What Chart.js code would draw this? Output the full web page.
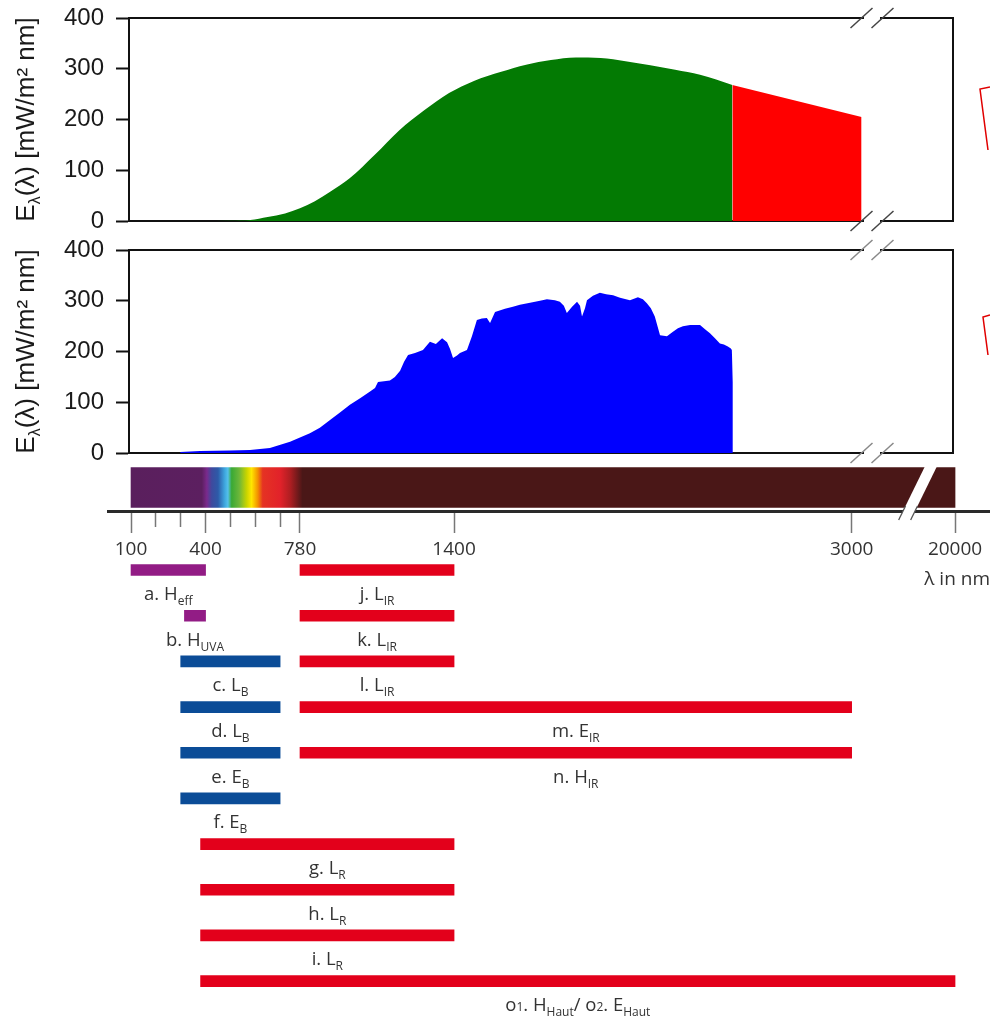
<!DOCTYPE html>
<html>
<head>
<meta charset="utf-8">
<script src="https://cdn.jsdelivr.net/npm/chart.js@4.4.1/dist/chart.umd.min.js"></script>
<style>
  body { margin: 0; background: #fff; width: 990px; height: 1020px; position: relative; overflow: hidden; }
  canvas { position: absolute; left: 0; }
</style>
</head>
<body>
<canvas id="planck" width="990" height="240" style="top:0"></canvas>
<canvas id="sun" width="990" height="240" style="top:230px"></canvas>
<canvas id="axis" width="990" height="135" style="top:460px"></canvas>
<canvas id="ranges" width="990" height="480" style="top:540px"></canvas>
<script>
// top panel: smooth source spectrum (green) and its IR tail (red), x in nm
const PLANCK_NM  = [100, 380, 500, 580, 650, 720, 780, 840, 900, 980, 1080, 1180, 1280, 1380, 1480, 1590, 1690, 1790, 1890, 1990, 2090, 2190, 2290, 2390, 2520];
const PLANCK_VAL = [0, 0, 0.5, 2, 8, 15, 25, 39, 57, 84, 130, 179, 218, 252, 276, 294, 308, 317, 322, 321, 315, 307, 298, 288, 268];
const PLANCK_IR_NM  = [2520, 3040];
const PLANCK_IR_VAL = [268, 205];

// middle panel: measured solar spectrum
const SUN_NM  = [298, 378, 498, 579, 659, 740, 820, 860, 901, 941, 981, 1022, 1062, 1082, 1094, 1142, 1162, 1183, 1199, 1215, 1243, 1275, 1303, 1327, 1352, 1372, 1384, 1396, 1412, 1424, 1452, 1472, 1492, 1512, 1532, 1545, 1565, 1605, 1637, 1665, 1706, 1746, 1774, 1806, 1826, 1842, 1854, 1875, 1895, 1907, 1915, 1927, 1935, 1959, 1987, 2012, 2040, 2068, 2108, 2140, 2160, 2176, 2192, 2208, 2229, 2257, 2281, 2301, 2321, 2350, 2390, 2410, 2430, 2450, 2470, 2486, 2502, 2514, 2518, 2522];
const SUN_VAL = [2, 4, 5, 6, 10, 22, 39, 50, 65, 80, 95, 108, 121, 128, 140, 143, 150, 162, 180, 193, 197, 203, 219, 215, 226, 218, 205, 187, 192, 197, 203, 230, 262, 265, 266, 256, 278, 284, 288, 292, 296, 300, 303, 301, 298, 290, 276, 288, 298, 290, 269, 285, 301, 310, 316, 313, 311, 306, 301, 307, 303, 295, 285, 269, 232, 230, 239, 246, 250, 252, 252, 244, 236, 226, 216, 214, 210, 206, 203, 140];

// wavelength axis
const AXIS_TICKS  = [100, 200, 300, 400, 500, 600, 700, 780, 1400, 3000, 20000];
const AXIS_LABELS = ['100', '', '', '400', '', '', '', '780', '1400', '3000', '20000'];

// colour band under the panels
const SPECTRUM_NM     = [100, 385, 405, 425, 450, 478, 490, 505, 535, 565, 585, 610, 630, 700, 740, 790, 20000];
const SPECTRUM_COLORS = ['#5a1f5d', '#5c1f60', '#7a2a8c', '#3e4a9e', '#2d5aa8', '#3fa9e0', '#55c0ea', '#3aa935', '#6cb63a', '#c8d400', '#ffe600', '#f39200', '#e53323', '#e2222a', '#b01e22', '#4a1717', '#4a1717'];

// ranges of the limit values (nm)
const ROW_IDS = ['1', '2', '3', '4', '5', '6', '7', '8', '9', '10'];
const LEFT_BARS  = [[100, 400], [315, 400], [300, 700], [300, 700], [300, 700], [300, 700], [380, 1400], [380, 1400], [380, 1400], [380, 20000]];
const LEFT_KIND  = ['uv', 'uv', 'blue', 'blue', 'blue', 'blue', 'red', 'red', 'red', 'red'];
const LEFT_NAMES = ['a. H_{eff}', 'b. H_{UVA}', 'c. L_{B}', 'd. L_{B}', 'e. E_{B}', 'f. E_{B}', 'g. L_{R}', 'h. L_{R}', 'i. L_{R}', 'o~{1}. H_{Haut}/ o~{2}. E_{Haut}'];
const RIGHT_BARS  = [[780, 1400], [780, 1400], [780, 1400], [780, 3000], [780, 3000]];
const RIGHT_NAMES = ['j. L_{IR}', 'k. L_{IR}', 'l. L_{IR}', 'm. E_{IR}', 'n. H_{IR}'];

const KIND_COLORS = { uv: '#921c85', blue: '#0b4c97', red: '#e3001b' };

// broken wavelength axis: linear up to 3000 nm, squeezed beyond
function pos(nm) { return nm <= 3000 ? nm : 3000 + (nm - 3000) * 416 / 17000; }

Chart.defaults.font.family = 'Open Sans';

function parseRich(str) {
  return str.split(/([_~]\{[^}]*\})/).filter(Boolean).map(p => {
    if (p[0] === '_' && p[1] === '{') return { t: p.slice(2, -1), kind: 'sub' };
    if (p[0] === '~' && p[1] === '{') return { t: p.slice(2, -1), kind: 'small' };
    return { t: p, kind: 'main' };
  });
}

function drawRich(ctx, str, cx, y, f) {
  const segs = parseRich(str);
  const fontOf = s => (s.kind === 'main' ? f.size : f.small) + 'px "' + f.family + '"';
  let w = 0;
  segs.forEach(s => { ctx.font = fontOf(s); s.w = ctx.measureText(s.t).width; w += s.w; });
  let x = cx - w / 2;
  ctx.fillStyle = f.color;
  ctx.textAlign = 'left';
  ctx.textBaseline = 'alphabetic';
  segs.forEach(s => {
    ctx.font = fontOf(s);
    ctx.fillText(s.t, x, y + (s.kind === 'sub' ? f.dy : 0));
    x += s.w;
  });
}

const BREAK_TOP = 3082;   // where the panels' frame is broken
const BREAK_AXIS = 3231;  // where the wavelength axis is broken

const panelDecor = {
  id: 'panelDecor',
  afterDraw(chart, args, opts) {
    const { ctx, chartArea: a, scales } = chart;
    ctx.save();
    ctx.translate(34, (a.top + a.bottom) / 2);
    ctx.rotate(-Math.PI / 2);
    drawRich(ctx, 'E_{λ}(λ) [mW/m² nm]', 0, 0, { family: 'Liberation Sans', size: 26, small: 16, dy: 6, color: '#1a1a1a' });
    ctx.restore();

    ctx.save();
    const bx = scales.x.getPixelForValue(BREAK_TOP);
    [a.top, a.bottom].forEach(y => {
      ctx.fillStyle = '#fff';
      ctx.fillRect(bx - 8, y - 2, 16, 4);
      ctx.strokeStyle = opts.slash;
      ctx.lineWidth = 1.5;
      [-10.5, 10.5].forEach(d => {
        ctx.beginPath();
        ctx.moveTo(bx + d - 11, y + 10);
        ctx.lineTo(bx + d + 11, y - 10);
        ctx.stroke();
      });
    });
    // cut-off callout frame at the right edge
    ctx.strokeStyle = '#e00000';
    ctx.lineWidth = 1.5;
    ctx.beginPath();
    opts.callout.forEach((p, i) => i ? ctx.lineTo(p[0], p[1]) : ctx.moveTo(p[0], p[1]));
    ctx.stroke();
    ctx.restore();
  }
};

function frameAxis(position, extra) {
  return Object.assign({
    type: 'linear', position, z: 1,
    ticks: { display: false },
    grid: { display: false },
    border: { color: '#111', width: 2 },
    afterFit: s => { if (position === 'top' || position === 'bottom') s.height = 0; else s.width = 0; }
  }, extra);
}

function panel(id, datasets, pad, callout, slash) {
  return new Chart(document.getElementById(id), {
    type: 'line',
    data: { datasets },
    options: {
      responsive: false,
      animation: false,
      layout: { padding: { left: 0, right: 37, top: pad[0], bottom: pad[1] } },
      elements: { point: { radius: 0 } },
      plugins: { legend: { display: false }, tooltip: { enabled: false }, panelDecor: { callout, slash } },
      scales: {
        x: frameAxis('bottom', { min: 92, max: 3408 }),
        xTop: frameAxis('top', { min: 92, max: 3408 }),
        y: {
          min: 0, max: 400,
          ticks: { stepSize: 100, padding: 12, color: '#1a1a1a', font: { family: 'Liberation Sans', size: 24 } },
          grid: { drawOnChartArea: false, tickLength: 13, tickColor: '#111', tickWidth: 2 },
          border: { color: '#111', width: 2 },
          afterFit: s => { s.width = 129; s.paddingTop = 0; s.paddingBottom = 0; }
        },
        yRight: frameAxis('right', { min: 0, max: 400 })
      }
    },
    plugins: [panelDecor]
  });
}

const xy = (xs, ys) => xs.map((x, i) => ({ x, y: ys[i] }));

panel('planck', [
  { data: xy(PLANCK_NM, PLANCK_VAL), fill: 'origin', backgroundColor: '#037a03', borderWidth: 0, cubicInterpolationMode: 'monotone' },
  { data: xy(PLANCK_IR_NM, PLANCK_IR_VAL), fill: 'origin', backgroundColor: '#ff0000', borderWidth: 0 }
], [18, 19], [[990, 87], [980, 89], [988, 150]], '#444');

panel('sun', [
  { data: xy(SUN_NM, SUN_VAL), fill: 'origin', backgroundColor: '#0000ff', borderWidth: 0 }
], [20, 17], [[990, 85], [983, 87], [988, 125]], '#888');

function spectrumFill(c) {
  const chart = c.chart;
  const xs = chart.scales.x;
  if (!chart.chartArea || !xs) return SPECTRUM_COLORS[SPECTRUM_COLORS.length - 1];
  const last = SPECTRUM_NM.length - 1;
  const x0 = xs.getPixelForValue(pos(SPECTRUM_NM[0]));
  const x1 = xs.getPixelForValue(pos(SPECTRUM_NM[last]));
  const g = chart.ctx.createLinearGradient(x0, 0, x1, 0);
  SPECTRUM_NM.forEach((nm, i) => g.addColorStop((xs.getPixelForValue(pos(nm)) - x0) / (x1 - x0), SPECTRUM_COLORS[i]));
  return g;
}

const axisBreak = {
  id: 'axisBreak',
  afterDraw(chart) {
    const { ctx, chartArea: a, scales } = chart;
    const bx = scales.x.getPixelForValue(BREAK_AXIS);
    const yAxis = a.bottom;
    const k = 0.49;
    const xAt = (y, d) => bx + d + (yAxis - y) * k;
    ctx.save();
    ctx.fillStyle = '#fff';
    ctx.beginPath();
    ctx.moveTo(xAt(yAxis + 9, -6), yAxis + 9);
    ctx.lineTo(xAt(yAxis + 9, 6), yAxis + 9);
    ctx.lineTo(xAt(a.top, 6), a.top);
    ctx.lineTo(xAt(a.top, -6), a.top);
    ctx.closePath();
    ctx.fill();
    ctx.strokeStyle = '#555';
    ctx.lineWidth = 1.3;
    [-6, 6].forEach(d => {
      ctx.beginPath();
      ctx.moveTo(xAt(yAxis + 9, d), yAxis + 9);
      ctx.lineTo(xAt(yAxis - 5, d), yAxis - 5);
      ctx.stroke();
    });
    ctx.restore();
  }
};

new Chart(document.getElementById('axis'), {
  type: 'bar',
  data: {
    labels: ['Spektrum'],
    datasets: [{ data: [[pos(100), pos(20000)]], backgroundColor: spectrumFill, barThickness: 40, borderWidth: 0 }]
  },
  options: {
    indexAxis: 'y',
    responsive: false,
    animation: false,
    layout: { padding: { left: 108, right: 0, top: 4, bottom: 0 } },
    plugins: { legend: { display: false }, tooltip: { enabled: false } },
    scales: {
      x: {
        type: 'linear', min: 7.4, max: 3556.7, z: 1,
        afterBuildTicks: s => { s.ticks = AXIS_TICKS.map(v => ({ value: pos(v) })); },
        ticks: { autoSkip: false, maxRotation: 0, padding: 5, color: '#333', font: { size: 19 }, callback: (v, i) => AXIS_LABELS[i] },
        grid: {
          drawOnChartArea: false, tickLength: 22, tickColor: '#777', tickWidth: 1.5,
          tickBorderDash: c => AXIS_LABELS[c.index] ? [] : [14, 60]
        },
        border: { color: '#2a2a2a', width: 3 },
        title: { display: true, text: 'λ in nm', align: 'end', color: '#333', font: { size: 19 } },
        afterFit: s => { s.height = 84; }
      },
      y: { display: false }
    }
  },
  plugins: [axisBreak]
});

const barLabels = {
  id: 'barLabels',
  afterDatasetsDraw(chart) {
    const ctx = chart.ctx;
    [LEFT_NAMES, RIGHT_NAMES].forEach((names, di) => {
      const meta = chart.getDatasetMeta(di);
      names.forEach((name, i) => {
        const bar = meta.data[i];
        if (!bar) return;
        drawRich(ctx, name, (bar.x + bar.base) / 2, bar.y + 30, { family: 'Open Sans', size: 18.5, small: 12, dy: 5, color: '#333' });
      });
    });
  }
};

new Chart(document.getElementById('ranges'), {
  type: 'bar',
  data: {
    labels: ROW_IDS,
    datasets: [
      { data: LEFT_BARS.map(b => [pos(b[0]), pos(b[1])]), backgroundColor: LEFT_KIND.map(k => KIND_COLORS[k]) },
      { data: RIGHT_BARS.map(b => [pos(b[0]), pos(b[1])]), backgroundColor: KIND_COLORS.red }
    ]
  },
  options: {
    indexAxis: 'y',
    responsive: false,
    animation: false,
    datasets: { bar: { grouped: false, barThickness: 11, borderWidth: 0 } },
    layout: { padding: { left: 108, right: 0, top: 7.2, bottom: 16.1 } },
    plugins: { legend: { display: false }, tooltip: { enabled: false } },
    scales: {
      x: { type: 'linear', min: 7.4, max: 3556.7, display: false },
      y: { display: false }
    }
  },
  plugins: [barLabels]
});
</script>
</body>
</html>
